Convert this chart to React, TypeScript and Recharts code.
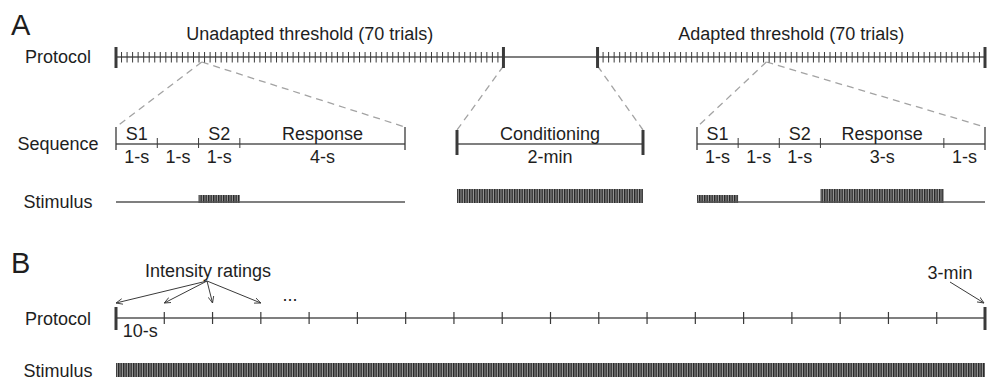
import React from "react";
import {
  ComposedChart,
  Line,
  ReferenceArea,
  Scatter,
  XAxis,
  YAxis,
} from "recharts";

if (typeof document !== "undefined") document.body.style.margin = "0";

const FONT = '"Liberation Sans", Arial, Helvetica, sans-serif';
const INK = "#1e1e1e";
const STROKE = "#3a3a3a";
const BASE = "#555555";
const DASH = "#a3a3a3";

// ---- A: threshold protocol ----
const unadaptedTrials = 70;
const adaptedTrials = 70;
const pauseTrials = 17; // gap for conditioning, in trial widths
const unadaptedZoomTrial = 15;
const adaptedZoomTrial = 30;

const unadaptedPhases = ["S1", "", "S2", "Response"];
const unadaptedDurations = [1, 1, 1, 4];
const unadaptedDurationLabels = ["1-s", "1-s", "1-s", "4-s"];
const unadaptedStimulus = [0, 0, 1, 0]; // 0 off, 1 weak, 2 strong

const conditioningPhases = ["Conditioning"];
const conditioningDurations = [120];
const conditioningDurationLabels = ["2-min"];
const conditioningStimulus = [2];

const adaptedPhases = ["S1", "", "S2", "Response", ""];
const adaptedDurations = [1, 1, 1, 3, 1];
const adaptedDurationLabels = ["1-s", "1-s", "1-s", "3-s", "1-s"];
const adaptedStimulus = [1, 0, 0, 2, 0];

// ---- B: continuous rating ----
const sessionSeconds = 180;
const ratingEvery = 10;
const arrowedRatings = [0, 10, 20, 30];

// layout
const GEO = {
  protocolA: { left: 116, width: 869, y: 56.5, height: 70 },
  seqU: { left: 116, width: 289, y: 144, height: 60 },
  cond: { left: 457, width: 186, y: 144, height: 60 },
  seqA: { left: 697, width: 288, y: 144, height: 60 },
  stimA: 202,
  protocolB: { left: 116, width: 869, y: 318, height: 50 },
  stimB: 376,
};

const TICK: Record<string, { up: number; down: number; w: number }> = {
  trial: { up: 5, down: 5.5, w: 1 },
  block: { up: 10, down: 11, w: 3 },
  phase: { up: 6, down: 4, w: 1 },
  seqEnd: { up: 17, down: 6, w: 1.3 },
  condEnd: { up: 14, down: 11, w: 3 },
  rating: { up: 6, down: 6, w: 1.2 },
  session: { up: 11, down: 12, w: 3 },
};
const LABEL_DY: Record<string, number> = { above: -4, below: 19, title: -17.5 };
const LEVEL_HEIGHT = [0, 7, 13];
const PAD = 8;

type Tick = { t: number; kind: string };
type Label = { t: number; text: string; kind: string };
type Block = { x1: number; x2: number; level: number };

const bounds = (d: number[]) =>
  d.reduce<number[]>((acc, v) => [...acc, acc[acc.length - 1] + v], [0]);

const xOf = (g: { left: number; width: number }, total: number, t: number) =>
  g.left + (t / total) * g.width;

const TickMark = (p: any) => {
  const s = TICK[p.payload.kind];
  return (
    <line
      x1={p.cx}
      x2={p.cx}
      y1={p.cy - s.up}
      y2={p.cy + s.down}
      stroke={STROKE}
      strokeWidth={s.w}
    />
  );
};

const LabelText = (p: any) => (
  <text
    x={p.cx}
    y={p.cy + LABEL_DY[p.payload.kind]}
    textAnchor="middle"
    fontSize={18}
    fontFamily={FONT}
    fill={INK}>
    {p.payload.text}
  </text>
);

function Row(props: {
  id: string;
  left: number;
  width: number;
  y: number;
  height: number;
  total: number;
  ticks?: Tick[];
  labels?: Label[];
  blocks?: Block[];
  baseline?: boolean;
}) {
  const { id, left, width, y, height, total, ticks = [], labels = [], blocks = [], baseline = true } = props;
  const data = [
    { t: 0, y: 0 },
    { t: total, y: 0 },
  ];
  return (
    <div style={{ position: "absolute", left: left - PAD, top: y - height / 2 }}>
      <ComposedChart
        width={width + 2 * PAD}
        height={height}
        data={data}
        margin={{ top: 0, right: PAD, bottom: 0, left: PAD }}>
        <defs>
          <pattern id={`hatch-${id}`} patternUnits="userSpaceOnUse" width={2.5} height={40}>
            <rect x={0} y={0} width={2.5} height={40} fill="#9a9a9a" />
            <rect x={0} y={0} width={1.4} height={40} fill="#262626" />
          </pattern>
        </defs>
        <XAxis type="number" dataKey="t" domain={[0, total]} hide />
        <YAxis type="number" dataKey="y" domain={[-height / 2, height / 2]} hide />
        {baseline && (
          <Line
            dataKey="y"
            stroke={BASE}
            strokeWidth={1.5}
            dot={false}
            activeDot={false}
            isAnimationActive={false}
          />
        )}
        {blocks
          .filter((b) => b.level > 0)
          .map((b, i) => (
            <ReferenceArea
              key={i}
              x1={b.x1}
              x2={b.x2}
              y1={-1}
              y2={LEVEL_HEIGHT[b.level]}
              fill={`url(#hatch-${id})`}
              fillOpacity={1}
              stroke="none"
            />
          ))}
        {ticks.length > 0 && (
          <Scatter data={ticks.map((k) => ({ ...k, y: 0 }))} shape={TickMark} isAnimationActive={false} />
        )}
        {labels.length > 0 && (
          <Scatter data={labels.map((k) => ({ ...k, y: 0 }))} shape={LabelText} isAnimationActive={false} />
        )}
      </ComposedChart>
    </div>
  );
}

const sequenceTicks = (durations: number[], endKind: string): Tick[] => {
  const b = bounds(durations);
  return b.map((t, i) => ({ t, kind: i === 0 || i === b.length - 1 ? endKind : "phase" }));
};

const sequenceLabels = (durations: number[], phases: string[], lengths: string[]): Label[] => {
  const b = bounds(durations);
  const out: Label[] = [];
  durations.forEach((_, i) => {
    const mid = (b[i] + b[i + 1]) / 2;
    if (phases[i]) out.push({ t: mid, text: phases[i], kind: "above" });
    out.push({ t: mid, text: lengths[i], kind: "below" });
  });
  return out;
};

const stimulusBlocks = (durations: number[], levels: number[]): Block[] => {
  const b = bounds(durations);
  return levels.map((level, i) => ({ x1: b[i], x2: b[i + 1], level }));
};

export default function App() {
  const protocolTotal = unadaptedTrials + pauseTrials + adaptedTrials;
  const adaptedStart = unadaptedTrials + pauseTrials;
  const protocolTicks: Tick[] = [];
  for (let i = 0; i <= unadaptedTrials; i++)
    protocolTicks.push({ t: i, kind: i === 0 || i === unadaptedTrials ? "block" : "trial" });
  for (let i = 0; i <= adaptedTrials; i++)
    protocolTicks.push({ t: adaptedStart + i, kind: i === 0 || i === adaptedTrials ? "block" : "trial" });
  const protocolLabels: Label[] = [
    { t: unadaptedTrials / 2, text: `Unadapted threshold (${unadaptedTrials} trials)`, kind: "title" },
    { t: adaptedStart + adaptedTrials / 2, text: `Adapted threshold (${adaptedTrials} trials)`, kind: "title" },
  ];

  const seqUTotal = unadaptedDurations.reduce((a, b) => a + b, 0);
  const seqATotal = adaptedDurations.reduce((a, b) => a + b, 0);
  const condTotal = conditioningDurations.reduce((a, b) => a + b, 0);

  const ratingTicks: Tick[] = [];
  for (let t = 0; t <= sessionSeconds; t += ratingEvery)
    ratingTicks.push({ t, kind: t === 0 || t === sessionSeconds ? "session" : "rating" });
  const ratingLabels: Label[] = [{ t: ratingEvery / 2, text: `${ratingEvery}-s`, kind: "below" }];

  // connector geometry (dashed zoom lines, rating arrows)
  const pA = GEO.protocolA;
  const pBottom = pA.y + TICK.trial.down;
  const seqTop = GEO.seqU.y - TICK.seqEnd.up;
  const condTop = GEO.cond.y - TICK.condEnd.up;
  const apexU = xOf(pA, protocolTotal, unadaptedZoomTrial + 0.5);
  const apexA = xOf(pA, protocolTotal, adaptedStart + adaptedZoomTrial + 0.5);
  const dashed = [
    [apexU, pBottom, xOf(GEO.seqU, seqUTotal, 0), seqTop],
    [apexU, pBottom, xOf(GEO.seqU, seqUTotal, seqUTotal), seqTop],
    [xOf(pA, protocolTotal, unadaptedTrials), pBottom + 4, xOf(GEO.cond, condTotal, 0), condTop],
    [xOf(pA, protocolTotal, adaptedStart), pBottom + 4, xOf(GEO.cond, condTotal, condTotal), condTop],
    [apexA, pBottom, xOf(GEO.seqA, seqATotal, 0), seqTop],
    [apexA, pBottom, xOf(GEO.seqA, seqATotal, seqATotal), seqTop],
  ];
  const pB = GEO.protocolB;
  const ratingApex = { x: 207, y: 281 };
  const arrowY = pB.y - 15;

  const txt = { fontFamily: FONT, fill: INK, fontSize: 18 };

  return (
    <div style={{ position: "relative", width: 987, height: 384, background: "#fff", overflow: "hidden" }}>
      <svg width={987} height={384} style={{ position: "absolute", left: 0, top: 0 }}>
        <defs>
          <marker
            id="arrow"
            viewBox="0 0 8 8"
            refX={7.5}
            refY={4}
            markerWidth={7}
            markerHeight={7}
            markerUnits="userSpaceOnUse"
            orient="auto">
            <path d="M0,0.8 L7.5,4 L0,7.2" fill="none" stroke={STROKE} strokeWidth={1} />
          </marker>
        </defs>
        <text x={11} y={35} {...txt} fontSize={29}>A</text>
        <text x={11} y={273} {...txt} fontSize={29}>B</text>
        <text x={58} y={63} textAnchor="middle" {...txt}>Protocol</text>
        <text x={58} y={149.5} textAnchor="middle" {...txt}>Sequence</text>
        <text x={58} y={208} textAnchor="middle" {...txt}>Stimulus</text>
        <text x={58} y={325} textAnchor="middle" {...txt}>Protocol</text>
        <text x={58} y={377} textAnchor="middle" {...txt}>Stimulus</text>
        {dashed.map(([x1, y1, x2, y2], i) => (
          <line key={i} x1={x1} y1={y1} x2={x2} y2={y2} stroke={DASH} strokeWidth={1.3} strokeDasharray="7 5" />
        ))}
        <text x={208} y={277} textAnchor="middle" {...txt}>Intensity ratings</text>
        {arrowedRatings.map((t) => (
          <line
            key={t}
            x1={ratingApex.x}
            y1={ratingApex.y}
            x2={xOf(pB, sessionSeconds, t)}
            y2={arrowY}
            stroke={STROKE}
            strokeWidth={1}
            markerEnd="url(#arrow)"
          />
        ))}
        <text x={290} y={301} textAnchor="middle" {...txt}>...</text>
        <text x={xOf(pB, sessionSeconds, sessionSeconds) - 35} y={279} textAnchor="middle" {...txt}>3-min</text>
        <line
          x1={xOf(pB, sessionSeconds, sessionSeconds) - 35}
          y1={282}
          x2={xOf(pB, sessionSeconds, sessionSeconds) - 1}
          y2={arrowY}
          stroke={STROKE}
          strokeWidth={1}
          markerEnd="url(#arrow)"
        />
      </svg>

      <Row id="protA" {...GEO.protocolA} total={protocolTotal} ticks={protocolTicks} labels={protocolLabels} />

      <Row
        id="seqU"
        {...GEO.seqU}
        total={seqUTotal}
        ticks={sequenceTicks(unadaptedDurations, "seqEnd")}
        labels={sequenceLabels(unadaptedDurations, unadaptedPhases, unadaptedDurationLabels)}
      />
      <Row
        id="cond"
        {...GEO.cond}
        total={condTotal}
        ticks={sequenceTicks(conditioningDurations, "condEnd")}
        labels={sequenceLabels(conditioningDurations, conditioningPhases, conditioningDurationLabels)}
      />
      <Row
        id="seqA"
        {...GEO.seqA}
        total={seqATotal}
        ticks={sequenceTicks(adaptedDurations, "seqEnd")}
        labels={sequenceLabels(adaptedDurations, adaptedPhases, adaptedDurationLabels)}
      />

      <Row
        id="stimU"
        left={GEO.seqU.left}
        width={GEO.seqU.width}
        y={GEO.stimA}
        height={30}
        total={seqUTotal}
        blocks={stimulusBlocks(unadaptedDurations, unadaptedStimulus)}
      />
      <Row
        id="stimC"
        left={GEO.cond.left}
        width={GEO.cond.width}
        y={GEO.stimA}
        height={30}
        total={condTotal}
        baseline={false}
        blocks={stimulusBlocks(conditioningDurations, conditioningStimulus)}
      />
      <Row
        id="stimA"
        left={GEO.seqA.left}
        width={GEO.seqA.width}
        y={GEO.stimA}
        height={30}
        total={seqATotal}
        blocks={stimulusBlocks(adaptedDurations, adaptedStimulus)}
      />

      <Row id="protB" {...GEO.protocolB} total={sessionSeconds} ticks={ratingTicks} labels={ratingLabels} />
      <Row
        id="stimB"
        left={pB.left}
        width={pB.width}
        y={GEO.stimB}
        height={34}
        total={sessionSeconds}
        baseline={false}
        blocks={[{ x1: 0, x2: sessionSeconds, level: 2 }]}
      />
    </div>
  );
}
